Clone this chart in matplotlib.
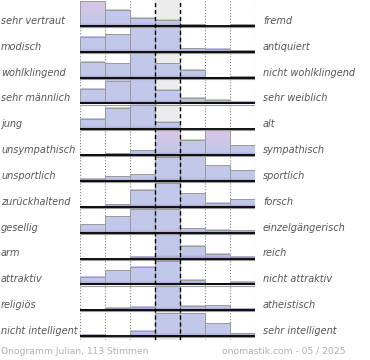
import numpy as np
import matplotlib
matplotlib.use("Agg")
import matplotlib.pyplot as plt
import matplotlib.transforms as mtransforms
from matplotlib.colors import to_rgb

# ---------------- data ----------------
left_labels = ["sehr vertraut", "modisch", "wohlklingend", "sehr männlich", "jung",
               "unsympathisch", "unsportlich", "zurückhaltend", "gesellig", "arm",
               "attraktiv", "religiös", "nicht intelligent"]
right_labels = ["fremd", "antiquiert", "nicht wohlklingend", "sehr weiblich", "alt",
                "sympathisch", "sportlich", "forsch", "einzelgängerisch", "reich",
                "nicht attraktiv", "atheistisch", "sehr intelligent"]
# share of votes (%) per scale step (7 steps, left -> right)
values = [
    [50.0, 18.0, 9.0, 7.0, 2.0, 0.0, 2.0],
    [17.0, 20.0, 28.0, 27.5, 4.0, 3.5, 1.8],
    [18.0, 16.5, 27.5, 16.0, 9.0, 0.5, 2.0],
    [16.0, 25.0, 28.0, 15.5, 6.0, 3.7, 1.5],
    [11.5, 24.0, 27.0, 8.5, 0.0, 0.0, 0.0],
    [1.1, 2.2, 5.6, 35.0, 17.0, 35.0, 11.0],
    [2.6, 5.6, 7.8, 26.5, 27.5, 17.5, 12.3],
    [0.5, 2.6, 19.4, 27.0, 15.7, 4.8, 8.2],
    [10.0, 18.3, 26.0, 26.0, 5.6, 3.4, 2.6],
    [0.0, 0.0, 1.7, 28.0, 13.8, 5.6, 1.7],
    [8.2, 15.7, 19.4, 26.3, 4.8, 1.1, 2.6],
    [0.5, 3.0, 4.1, 27.0, 4.8, 5.3, 1.9],
    [1.5, 0.0, 6.0, 25.4, 25.8, 14.2, 3.0],
]
footer_left = "Onogramm Julian, 113 Stimmen"
footer_right = "onomastik.com - 05 / 2025"

full_scale = 28.0      # % shown by a bar filling the whole row
# ---------------------------------------

W, H = 370, 360
fig = plt.figure(figsize=(W / 100, H / 100), dpi=100)
fig.patch.set_facecolor("white")

n = len(values)
px_per_row = 25.85
bottom_px = 340
ax = fig.add_axes([80 / W, 1 - bottom_px / H, 175 / W, bottom_px / H])
ylow = -(bottom_px - n * px_per_row) / px_per_row
ax.set_xlim(0, 7)
ax.set_ylim(ylow, n)
ax.axis("off")

# middle column background
ax.axvspan(3, 4, color="#ececec", zorder=0, lw=0)

# dotted column lines
for xv in [0, 1, 2, 5, 6, 7]:
    ax.axvline(xv, color="#808080", lw=0.8, ls=(0, (1, 1.6)), zorder=1)

blue = np.array(to_rgb("#c2c8e9"))
pink = np.array(to_rgb("#dcc5e6"))
purple = np.array(to_rgb("#a69fcf"))
maxh = 0.965
purple_zone = 3.0 / px_per_row

for i, row in enumerate(values):
    base = n - 1 - i
    for j, v in enumerate(row):
        if v <= 0:
            continue
        clipped = v > full_scale
        h = min(v / full_scale, 1.0) * maxh
        N = 60
        ys = np.linspace(h, 0, N)  # from top to bottom
        cols = []
        for yy in ys:
            if clipped:
                t = np.clip(yy / h, 0, 1)
                c = blue * (1 - t ** 1.5) + pink * (t ** 1.5)
            else:
                c = blue.copy()
            if yy < purple_zone:
                s = 1 - yy / purple_zone
                c = c * (1 - s) + purple * s
            cols.append(c)
        img = np.array(cols).reshape(N, 1, 3)
        ax.imshow(img, extent=[j, j + 1, base, base + h], aspect="auto",
                  interpolation="bilinear", zorder=2)
        ax.add_patch(plt.Rectangle((j, base), 1, h, fill=False,
                                   edgecolor="#9a9a9a", lw=0.7, zorder=3))
    ax.hlines(base - 0.045, 0, 7, color="#9a9a9a", lw=0.8, zorder=4)
    ax.hlines(base, 0, 7, color="black", lw=1.3, zorder=5)

# dashed middle column lines
for xv in [3, 4]:
    ax.axvline(xv, color="black", lw=1.0, ls=(0, (3, 2)), zorder=6)

ax.set_xlim(0, 7)
ax.set_ylim(ylow, n)

trans = mtransforms.blended_transform_factory(fig.transFigure, ax.transData)
off = 2.0 / px_per_row
for i in range(n):
    base = n - 1 - i
    ax.text(1 / W, base + off, left_labels[i], transform=trans, ha="left",
            va="baseline", fontsize=7, style="italic", color="#555555",
            family="DejaVu Sans")
    ax.text(263 / W, base + off, right_labels[i], transform=trans, ha="left",
            va="baseline", fontsize=7, style="italic", color="#555555",
            family="DejaVu Sans")

fig.text(1 / W, 1 - 354 / H, footer_left, ha="left", va="baseline",
         fontsize=6.6, color="#b0b0b0", family="DejaVu Sans")
fig.text(346 / W, 1 - 354 / H, footer_right, ha="right", va="baseline",
         fontsize=6.6, color="#b0b0b0", family="DejaVu Sans")

fig.savefig("out.png", dpi=100, facecolor="white")
